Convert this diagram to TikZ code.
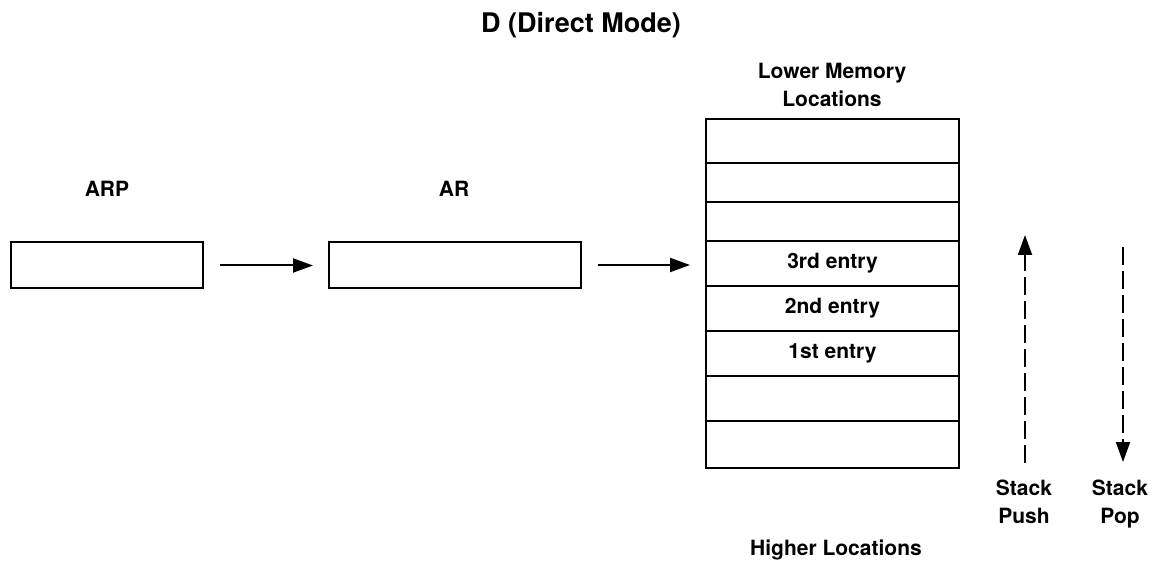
\documentclass[tikz,border=0pt]{standalone}
\usepackage{fontspec}
\setmainfont{TeX Gyre Heros}
\usetikzlibrary{arrows.meta}
\begin{document}
\begin{tikzpicture}[x=0.5pt,y=-0.5pt,
  lbl/.style={font=\fontsize{10.5}{14}\selectfont\bfseries,inner sep=0pt,outer sep=0pt},
  regbox/.style={draw,line width=1pt,minimum height=23pt,inner sep=0pt,outer sep=0pt},
  memrow/.style={draw,line width=1pt,minimum width=126.5pt,inner sep=0pt,outer sep=0pt,
    font=\fontsize{10.5}{14}\selectfont\bfseries},
  flow/.style={line width=1pt,-{Triangle[length=10pt,width=7pt]},shorten >=8pt,shorten <=8.5pt},
  stackarrow/.style={line width=1pt,-{Triangle[length=10pt,width=7pt]},dash pattern=on 9pt off 3pt}
]
\useasboundingbox (0,0) rectangle (1152,561);

% title
\node[lbl,font=\fontsize{13.5}{15}\selectfont\bfseries,anchor=base] (title) at (581,33) {D (Direct Mode)};

% registers
\node[lbl,anchor=base] (arplbl) at (107,197) {ARP};
\node[lbl,anchor=base] (arlbl) at (454,197) {AR};
\node[regbox,minimum width=96pt] (arp) at (107,265.5) {};
\node[regbox,minimum width=126pt] (ar) at (455,265) {};

% memory stack
\node[lbl,align=center,anchor=north] (lower) at (832,63) {Lower Memory\\Locations};
\node[memrow,minimum height=22pt] (r1) at (832.5,141) {};
\node[memrow,minimum height=19.5pt] (r2) at (832.5,182.5) {};
\node[memrow,minimum height=19.5pt] (r3) at (832.5,221.5) {};
\node[memrow,minimum height=22.5pt] (r4) at (832.5,263.5) {3rd entry};
\node[memrow,minimum height=22.5pt] (r5) at (832.5,308.5) {2nd entry};
\node[memrow,minimum height=22.5pt] (r6) at (832.5,353.5) {1st entry};
\node[memrow,minimum height=22.5pt] (r7) at (832.5,398.5) {};
\node[memrow,minimum height=23.5pt] (r8) at (832.5,444.5) {};
\node[lbl,anchor=base] (higher) at (836,555) {Higher Locations};

% flow arrows
\draw[flow] (arp.east) -- (arp.east -| ar.west);
\draw[flow] (ar.east) -- (ar.east -| r4.west);

% stack push / pop
\coordinate (pushB) at (1025,463);
\coordinate (pushT) at (1025,235);
\coordinate (popT) at (1123,247);
\coordinate (popB) at (1123,462);
\draw[stackarrow] (pushB) -- (pushT);
\draw[stackarrow] (popT) -- (popB);
\node[lbl,align=center,anchor=north] (push) at (1024,480) {Stack\\Push};
\node[lbl,align=center,anchor=north] (pop) at (1120,480) {Stack\\Pop};
\end{tikzpicture}
\end{document}
